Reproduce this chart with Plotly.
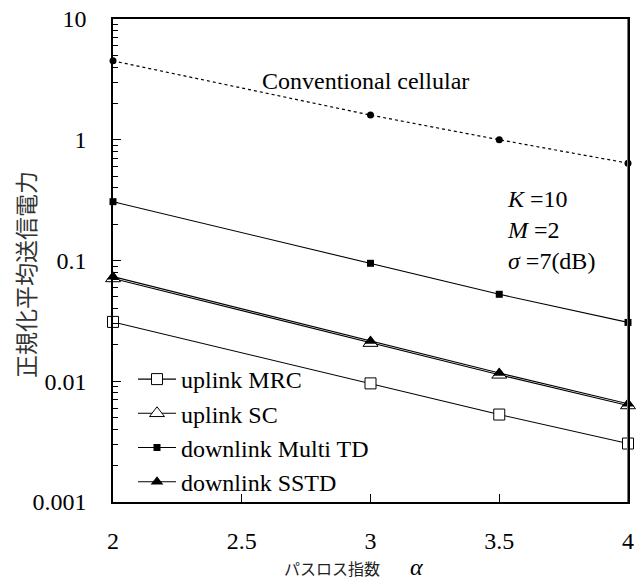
import plotly.graph_objects as go

alpha_pts = [2, 3, 3.5, 4]

conventional = [4.5, 1.6, 1.0, 0.64]
uplink_mrc = [0.031, 0.0096, 0.0053, 0.00305]
uplink_sc = [0.071, 0.0207, 0.0113, 0.0063]
downlink_multi_td = [0.307, 0.0948, 0.0525, 0.0307]
downlink_sstd = [0.0735, 0.0215, 0.0117, 0.0065]

x_ticks = [2, 2.5, 3, 3.5, 4]
x_tick_labels = ["2", "2.5", "3", "3.5", "4"]
y_ticks = [0.001, 0.01, 0.1, 1, 10]
y_tick_labels = ["0.001", "0.01", "0.1", "1", "10"]

serif = "Liberation Serif, Times New Roman, serif"
jp = "Noto Sans CJK JP, sans-serif"

L, R, T, B = 113, 9, 19, 79
W, H = 637, 581
PW, PH = W - L - R, H - T - B


def px(x):
    return (x - L) / PW


def py(y):
    return (H - B - y) / PH


fig = go.Figure()
fig.add_trace(go.Scatter(x=alpha_pts, y=conventional, mode="lines+markers",
                         line=dict(color="black", width=1.2, dash="dot"),
                         marker=dict(symbol="circle", size=7, color="black"),
                         showlegend=False, cliponaxis=False))
fig.add_trace(go.Scatter(x=alpha_pts, y=uplink_mrc, mode="lines+markers", name="uplink MRC",
                         line=dict(color="black", width=1.1),
                         marker=dict(symbol="square", size=11, color="white",
                                     line=dict(color="black", width=1)),
                         legendgroup="a", cliponaxis=False))
fig.add_trace(go.Scatter(x=alpha_pts, y=uplink_sc, mode="lines+markers", name="uplink SC",
                         line=dict(color="black", width=1.1),
                         marker=dict(symbol="triangle-up", size=13, color="white",
                                     line=dict(color="black", width=1)),
                         legendgroup="b", cliponaxis=False))
fig.add_trace(go.Scatter(x=alpha_pts, y=downlink_multi_td, mode="lines+markers", name="downlink Multi TD",
                         line=dict(color="black", width=1.1),
                         marker=dict(symbol="square", size=7, color="black"),
                         legendgroup="c", cliponaxis=False))
fig.add_trace(go.Scatter(x=alpha_pts, y=downlink_sstd, mode="lines+markers", name="downlink SSTD",
                         line=dict(color="black", width=1.1),
                         marker=dict(symbol="triangle-up", size=11, color="black"),
                         legendgroup="d", cliponaxis=False))

fig.update_layout(
    width=W, height=H,
    margin=dict(l=L, r=R, t=T, b=B),
    paper_bgcolor="white", plot_bgcolor="white",
    font=dict(family=serif, size=24, color="black"),
    showlegend=True,
    legend=dict(x=px(133), y=py(504), xanchor="left", yanchor="bottom",
                bgcolor="rgba(0,0,0,0)", font=dict(family=serif, size=24),
                traceorder="grouped", tracegroupgap=0, itemwidth=38),
    xaxis=dict(range=[2, 4], tickvals=x_ticks, ticktext=x_tick_labels,
               ticks="inside", ticklen=8, tickcolor="black", tickwidth=1,
               showline=True, linecolor="black", linewidth=1.5, mirror=True,
               showgrid=False, zeroline=False, ticklabelstandoff=16, automargin=False,
               tickfont=dict(family=serif, size=24)),
    yaxis=dict(type="log", range=[-3, 1], tickvals=y_ticks, ticktext=y_tick_labels,
               ticks="inside", ticklen=8, tickcolor="black", tickwidth=1,
               minor=dict(ticks="inside", ticklen=5, tickcolor="black", dtick="D1", showgrid=False),
               showline=True, linecolor="black", linewidth=1.5, mirror=True,
               showgrid=False, zeroline=False, ticklabelstandoff=20, automargin=False,
               tickfont=dict(family=serif, size=24)),
)

fig.add_shape(type="line", xref="x", yref="paper", x0=4, x1=4, y0=0, y1=1,
              line=dict(color="#777777", width=2))

fig.add_annotation(text="正規化平均送信電力", xref="paper", yref="paper",
                   x=px(25), y=py(275), xanchor="center", yanchor="middle",
                   textangle=-90, showarrow=False,
                   font=dict(family=jp, size=23, color="#333333"))
fig.add_annotation(text="パスロス指数", xref="paper", yref="paper",
                   x=px(332), y=py(568), xanchor="center", yanchor="middle", showarrow=False,
                   font=dict(family=jp, size=16, color="#222222"))
fig.add_annotation(text="<i>α</i>", xref="paper", yref="paper",
                   x=px(416), y=py(567), xanchor="center", yanchor="middle", showarrow=False,
                   font=dict(family=serif, size=24, color="black"))
fig.add_annotation(text="Conventional cellular", xref="paper", yref="paper",
                   x=px(365), y=py(81), xanchor="center", yanchor="middle", showarrow=False,
                   font=dict(family=serif, size=24))
fig.add_annotation(text="<i>K</i> =10<br><i>M</i> =2<br><i>σ</i> =7(dB)", xref="paper", yref="paper",
                   x=px(505), y=py(184), xanchor="left", yanchor="top",
                   align="left", showarrow=False,
                   font=dict(family=serif, size=24))

fig.write_html("out.html", config={"displayModeBar": False},
               post_script="document.body.style.margin='0';")
